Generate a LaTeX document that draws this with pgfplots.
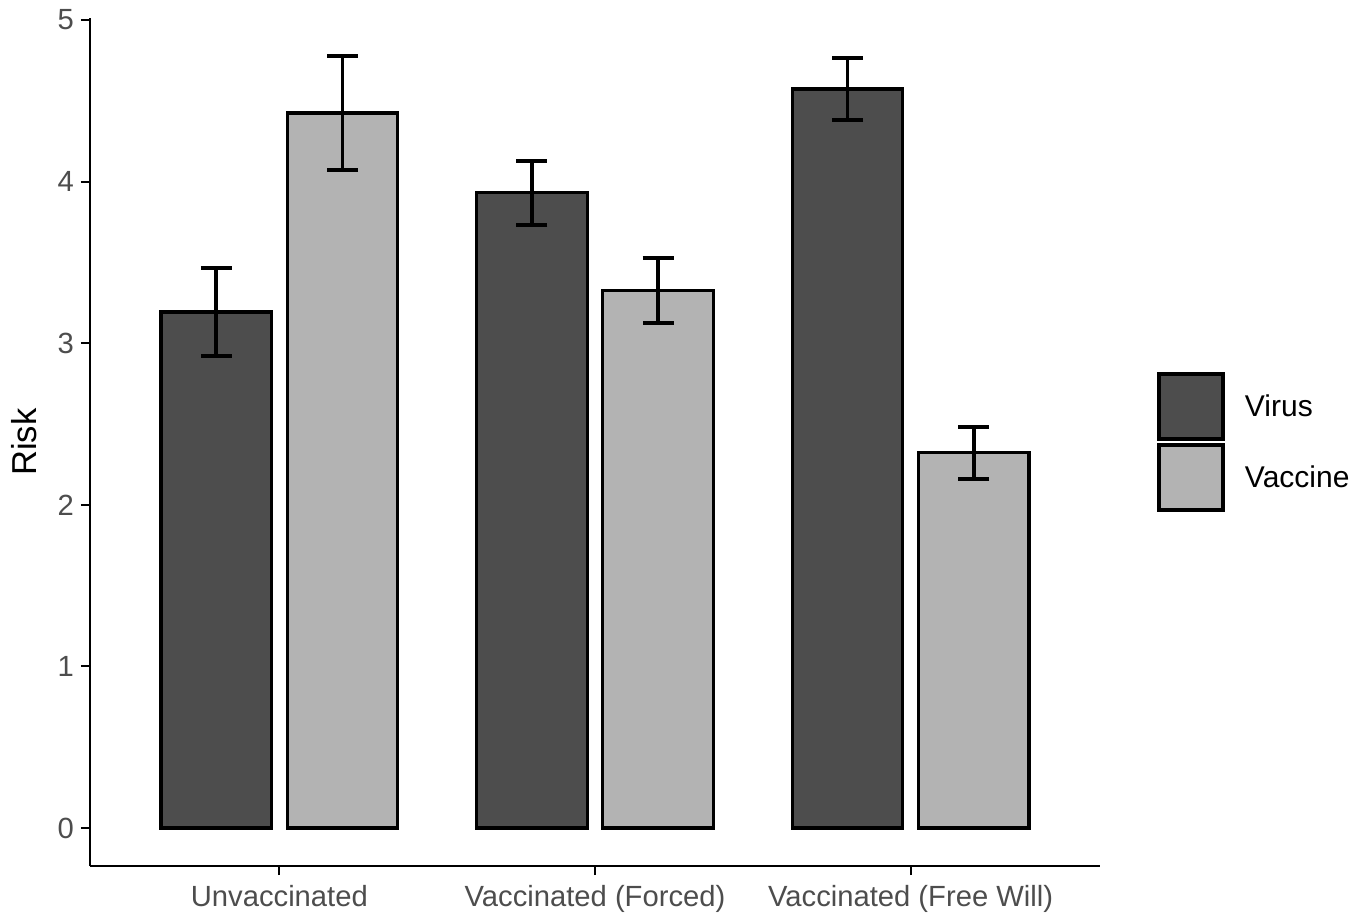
\documentclass[border=0pt]{standalone}
\usepackage{pgfplots}
\pgfplotsset{compat=1.18}
\usepackage{fontspec}
\setmainfont{Liberation Sans}
\definecolor{darkbar}{HTML}{4D4D4D}
\definecolor{lightbar}{HTML}{B3B3B3}
\definecolor{tickgray}{HTML}{4D4D4D}
\begin{document}
\begin{tikzpicture}
\useasboundingbox (0,0) rectangle (680.5pt,461.5pt);
\begin{axis}[
  at={(45pt,28.5pt)}, anchor=south west,
  scale only axis, width=505pt, height=423.8pt,
  xmin=0.4, xmax=3.6, ymin=-0.235, ymax=5.01,
  axis x line*=bottom, axis y line*=left,
  axis line style={-, line width=1pt, black},
  tick align=outside, major tick length=4.5pt,
  tick style={black, line width=1pt},
  minor tick num=0,
  xtick={1,2,3},
  xticklabels={Unvaccinated, Vaccinated (Forced), Vaccinated (Free Will)},
  ytick={0,1,2,3,4,5},
  /pgf/number format/assume math mode=true,
  tick label style={font=\fontsize{14.6pt}{17pt}\selectfont, text=tickgray},
  xticklabel style={yshift=-1.5pt},
  ylabel={Risk},
  ylabel style={font=\fontsize{17.3pt}{20pt}\selectfont, at={(axis description cs:-0.0525,0.5)}, anchor=base},
  legend style={at={(1.0564,0.5)}, anchor=west, draw=none, fill=none,
    inner sep=0pt, outer sep=0pt, row sep=0pt,
    font=\fontsize{15pt}{17pt}\selectfont,
    nodes={inner sep=0pt}},
  legend cell align=left,
]
\addplot[ybar, bar width=0.35, bar shift=0pt, fill=darkbar, draw=black, line width=1.6pt,
  legend image code/.code={%
    \path[draw=none, fill=none] (0pt,-17.75pt) rectangle (34pt,17.75pt);
    \draw[line width=1.9pt, fill=darkbar, draw=black] (0.95pt,-16.3pt) rectangle (33.05pt,16.3pt);},
  error bars/.cd, y dir=both, y explicit,
  error bar style={line width=1.9pt, black},
  error mark options={rotate=90, mark size=7.75pt, line width=1.9pt, black}]
  table[x=x, y=y, y error plus=ep, y error minus=em] {
x y ep em
0.8 3.193 0.272 0.272
1.8 3.931 0.199 0.199
2.8 4.573 0.190 0.190
};
\addlegendentry{\hspace*{10pt}Virus}
\addplot[ybar, bar width=0.35, bar shift=0pt, fill=lightbar, draw=black, line width=1.6pt,
  legend image code/.code={%
    \path[draw=none, fill=none] (0pt,-17.75pt) rectangle (34pt,17.75pt);
    \draw[line width=1.9pt, fill=lightbar, draw=black] (0.95pt,-16.3pt) rectangle (33.05pt,16.3pt);},
  error bars/.cd, y dir=both, y explicit,
  error bar style={line width=1.9pt, black},
  error mark options={rotate=90, mark size=7.75pt, line width=1.9pt, black}]
  table[x=x, y=y, y error plus=ep, y error minus=em] {
x y ep em
1.2 4.425 0.352 0.352
2.2 3.325 0.200 0.200
3.2 2.322 0.162 0.162
};
\addlegendentry{\hspace*{10pt}Vaccine}
\end{axis}
\end{tikzpicture}
\end{document}
